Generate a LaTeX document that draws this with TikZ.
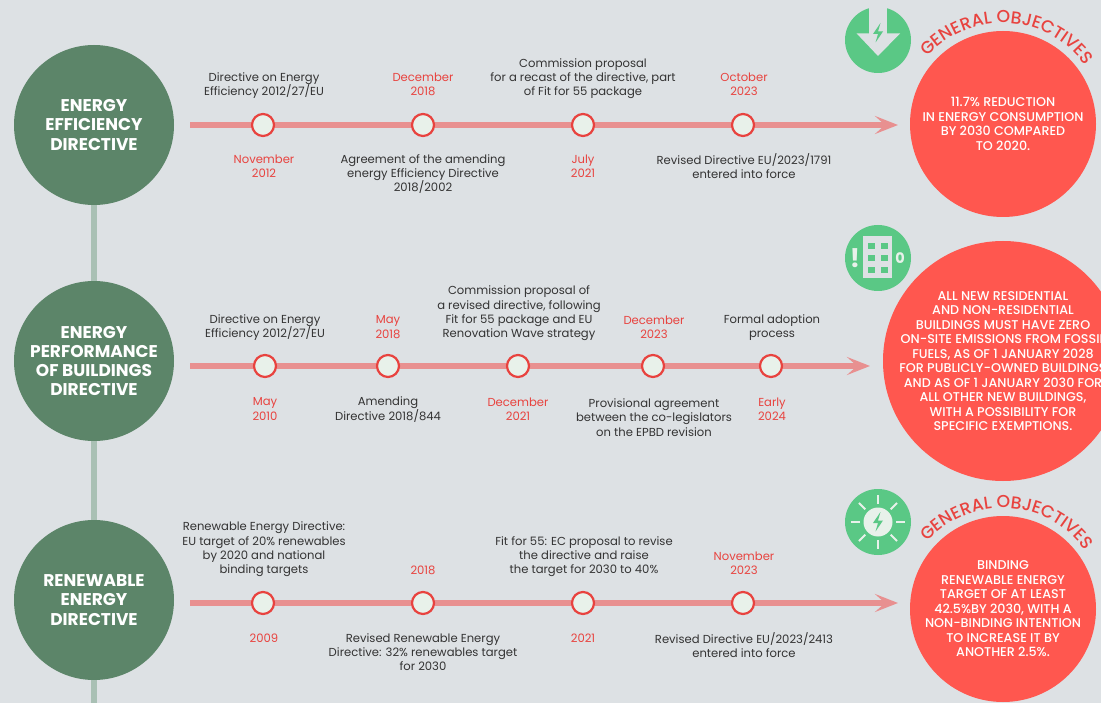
\documentclass[tikz,border=0pt]{standalone}
\usepackage{fontspec}
\setmainfont{Poppins}
\newfontfamily\medfont{Poppins Medium}
\usetikzlibrary{arrows.meta,decorations.text}
\definecolor{pagebg}{HTML}{DDE1E4}
\definecolor{dirgreen}{HTML}{5C8569}
\definecolor{linkgreen}{HTML}{A9C0B4}
\definecolor{icongreen}{HTML}{5AC885}
\definecolor{iconwhite}{HTML}{E8F1EA}
\definecolor{goalred}{HTML}{FF574F}
\definecolor{datered}{HTML}{E8433F}
\definecolor{linered}{HTML}{E89090}
\definecolor{eventtext}{HTML}{333333}
\tikzset{
	direct/.style={circle, fill=dirgreen, minimum size=160pt, inner sep=0pt, align=center, text=white, font=\fontsize{17}{19.2}\selectfont\bfseries},
	goal/.style={circle, fill=goalred, inner sep=-30pt, align=center, text=white, font=\fontsize{12.7}{14.5}\selectfont\medfont},
	icon/.style={circle, fill=icongreen, minimum size=66pt, inner sep=0pt},
	datemark/.style={circle, draw=datered, fill=iconwhite, line width=2.2pt, minimum size=22pt, inner sep=0pt},
	event/.style={align=center, text=eventtext, font=\fontsize{11.6}{14.3}\selectfont},
	when/.style={align=center, text=datered, font=\fontsize{11.6}{14.3}\selectfont},
	track/.style={linered, line width=5.5pt, -{Stealth[length=23pt,width=18pt,inset=10pt]}},
	link/.style={linkgreen, line width=6pt},
	curved/.style={postaction={decorate}, decoration={text along path, text align=center, text={|\fontsize{17.3}{18}\selectfont\medfont\color{datered}|GENERAL OBJECTIVES}}}
}
\newcommand{\boltshape}[1]{(#1)++(2.5,-10)--++(-7.5,11)--++(5,0)--++(-2.5,8.5)--++(7.5,-11)--++(-5,0)--cycle}
\begin{document}
\begin{tikzpicture}[x=1pt,y=-1pt]
	\fill[pagebg](0,0) rectangle (1101,703);
	\useasboundingbox (0,0) rectangle (1101,703);
	\clip (0,0) rectangle (1101,703);
	
	% directives
	\coordinate (linkend) at (94,703);
	\node[direct] (eed) at (94,125){ENERGY\\EFFICIENCY\\DIRECTIVE};
	\node[direct] (epbd) at (94,361){ENERGY\\PERFORMANCE\\OF BUILDINGS\\DIRECTIVE};
	\node[direct] (red) at (94,600){RENEWABLE\\ENERGY\\DIRECTIVE};
	\draw[link](eed.south)--(epbd.north);
	\draw[link](epbd.south)--(red.north);
	\draw[link](red.south)--(linkend);
	
	% first timeline
	\coordinate (eedstart) at (190,125);
	\coordinate (eedend) at (898,125);
	\draw[track](eedstart)--(eedend);
	\node[datemark] (eeda) at (263,125){};
	\node[datemark] (eedb) at (423,125){};
	\node[datemark] (eedc) at (583,125){};
	\node[datemark] (eedd) at (743,125){};
	\node[event] (eedae) at (264,85.5){Directive on Energy\\Efficiency 2012/27/EU};
	\node[when] (eedbd) at (423,84){December\\2018};
	\node[event] (eedce) at (583,78.5){Commission proposal\\for a recast of the directive, part\\of Fit for 55 package};
	\node[when] (eeddd) at (744,84){October\\2023};
	\node[when] (eedad) at (264,166){November\\2012};
	\node[event] (eedbe) at (423,174){Agreement of the amending\\energy Efficiency Directive\\2018/2002};
	\node[when] (eedcd) at (583,166){July\\2021};
	\node[event] (eedde) at (744,166){Revised Directive EU/2023/1791\\entered into force};
	
	% second timeline
	\coordinate (epbdstart) at (190,366);
	\coordinate (epbdend) at (870,366);
	\draw[track](epbdstart)--(epbdend);
	\node[datemark] (epbda) at (265,366){};
	\node[datemark] (epbdb) at (388,366){};
	\node[datemark] (epbdc) at (518,366){};
	\node[datemark] (epbdd) at (653,366){};
	\node[datemark] (epbde) at (771,366){};
	\node[event] (epbdae) at (265,327.5){Directive on Energy\\Efficiency 2012/27/EU};
	\node[when] (epbdbd) at (388,327){May\\2018};
	\node[event] (epbdce) at (519,313.5){Commission proposal of\\a revised directive, following\\Fit for 55 package and EU\\Renovation Wave strategy};
	\node[when] (epbddd) at (654,327){December\\2023};
	\node[event] (epbdee) at (772,327.5){Formal adoption\\process};
	\node[when] (epbdad) at (265,409){May\\2010};
	\node[event] (epbdbe) at (388,409.5){Amending\\Directive 2018/844};
	\node[when] (epbdcd) at (518,409){December\\2021};
	\node[event] (epbdde) at (654,417.5){Provisional agreement\\between the co-legislators\\on the EPBD revision};
	\node[when] (epbded) at (772,409){Early\\2024};
	
	% third timeline
	\coordinate (redstart) at (190,603);
	\coordinate (redend) at (898,603);
	\draw[track](redstart)--(redend);
	\node[datemark] (reda) at (263,603){};
	\node[datemark] (redb) at (423,603){};
	\node[datemark] (redc) at (583,603){};
	\node[datemark] (redd) at (743,603){};
	\node[event] (redae) at (264,549.5){Renewable Energy Directive:\\EU target of 20\% renewables\\by 2020 and national\\binding targets};
	\node[when] (redbd) at (423,570){2018};
	\node[event] (redce) at (584,556.5){Fit for 55: EC proposal to revise\\the directive and raise\\the target for 2030 to 40\%};
	\node[when] (reddd) at (744,563){November\\2023};
	\node[when] (redad) at (264,638){2009};
	\node[event] (redbe) at (423,652){Revised Renewable Energy\\Directive: 32\% renewables target\\for 2030};
	\node[when] (redcd) at (583,638){2021};
	\node[event] (redde) at (744,645){Revised Directive EU/2023/2413\\entered into force};
	
	% objectives
	\node[goal, minimum size=186pt] (goala) at (1003,124){11.7\% REDUCTION\\IN ENERGY CONSUMPTION\\BY 2030 COMPARED\\TO 2020.};
	\node[goal, minimum size=240pt] (goalb) at (1003,361){ALL NEW RESIDENTIAL\\AND NON-RESIDENTIAL\\BUILDINGS MUST HAVE ZERO\\ON-SITE EMISSIONS FROM FOSSIL\\FUELS, AS OF 1 JANUARY 2028\\FOR PUBLICLY-OWNED BUILDINGS\\AND AS OF 1 JANUARY 2030 FOR\\ALL OTHER NEW BUILDINGS,\\WITH A POSSIBILITY FOR\\SPECIFIC EXEMPTIONS.};
	\node[goal, minimum size=186pt] (goalc) at (1003,609){BINDING\\RENEWABLE ENERGY\\TARGET OF AT LEAST\\42.5\%BY 2030, WITH A\\NON-BINDING INTENTION\\TO INCREASE IT BY\\ANOTHER 2.5\%.};
	\coordinate (arca) at ([shift={(208:101)}]goala.center);
	\coordinate (arcc) at ([shift={(208:101)}]goalc.center);
	\path[curved](arca) arc[start angle=208, end angle=338, radius=101];
	\path[curved](arcc) arc[start angle=208, end angle=338, radius=101];
	
	% icons
	\node[icon] (icona) at (878,40){};
	\fill[pagebg](869.3,5) rectangle (887.3,34);
	\fill[pagebg](856.7,33.5)--(878,56)--(900,33.5)--cycle;
	\fill[icongreen]\boltshape{878,33};
	
	\node[icon] (iconb) at (878,258){};
	\fill[pagebg](863,236) rectangle (892,278);
	\foreach \y in {243,255,267}
		\foreach \x in {868,881}
			\fill[icongreen](\x,\y) rectangle ++(6.5,6.5);
	\node[text=iconwhite, font=\fontsize{26}{26}\selectfont\bfseries] (iconbl) at (855,258){!};
	\node[text=iconwhite, font=\fontsize{14.5}{14.5}\selectfont\bfseries] (iconbr) at (900,258){0};
	
	\node[icon] (iconc) at (878,522){};
	\fill[iconwhite](878,522) circle[radius=14.5];
	\foreach \a in {0,45,...,315}
		\draw[iconwhite, line width=1.8pt](878,522)++(\a:18)--++(\a:9);
	\fill[icongreen]\boltshape{878,522};
\end{tikzpicture}
\end{document}
